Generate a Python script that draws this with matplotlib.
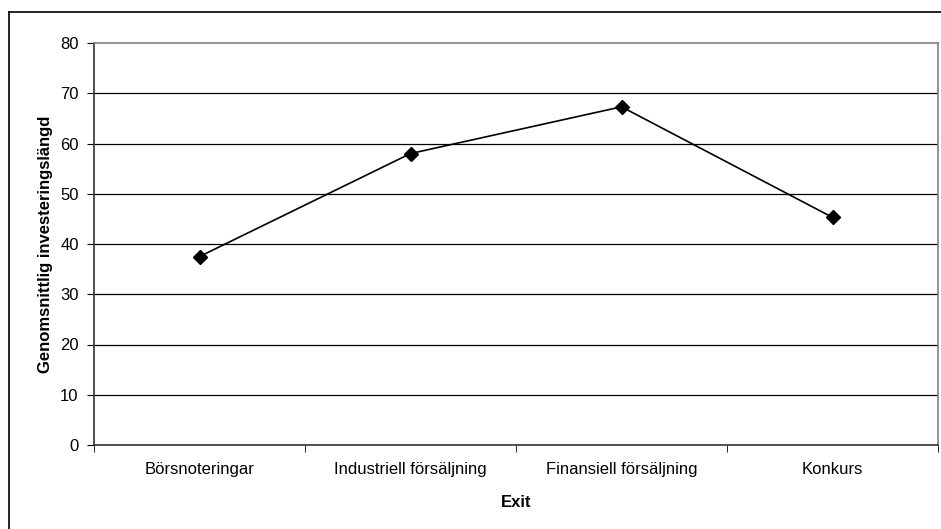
import matplotlib.pyplot as plt
from matplotlib.lines import Line2D
import numpy as np

plt.rcParams['font.family'] = ['Liberation Sans', 'DejaVu Sans']

kategorier = ["Börsnoteringar", "Industriell försäljning", "Finansiell försäljning", "Konkurs"]
langd = [37.5, 58.0, 67.3, 45.3]
yticks = [0, 10, 20, 30, 40, 50, 60, 70, 80]

W, H = 941, 529
fig = plt.figure(figsize=(W / 100, H / 100), dpi=100)
ax = fig.add_axes([94 / W, 1 - 445 / H, (938 - 94) / W, (445 - 43) / H])

x = np.arange(len(kategorier))
ax.plot(x, langd, color="black", lw=1.2, marker="D", ms=7, mfc="black", mec="black", zorder=3)

ax.set_xlim(-0.5, len(kategorier) - 0.5)
ax.set_ylim(0, 80)
ax.set_yticks(yticks)
ax.set_xticks(x)
ax.set_xticklabels(kategorier, fontsize=12)
ax.set_xticks(np.arange(len(kategorier) + 1) - 0.5, minor=True)
ax.tick_params(axis="x", which="major", length=0, pad=12)
ax.tick_params(axis="x", which="minor", length=5, direction="out", color="black")
ax.tick_params(axis="y", length=5, direction="out", labelsize=12, pad=6)

for v in yticks[1:-1]:
    ax.axhline(v, color="black", lw=0.9, zorder=1)

for side in ["top", "right"]:
    ax.spines[side].set_color("#808080")
    ax.spines[side].set_linewidth(1.2)
for side in ["left", "bottom"]:
    ax.spines[side].set_color("#333333")
    ax.spines[side].set_linewidth(1.2)

ax.set_ylabel("Genomsnittlig investeringslängd", fontsize=12, fontweight="bold", labelpad=5)
ax.set_xlabel("Exit", fontsize=12, fontweight="bold", labelpad=13)

# yttre ram
fig.add_artist(Line2D([9 / W, 9 / W], [0, 1 - 12 / H], color="black", lw=1.2))
fig.add_artist(Line2D([9 / W, 1], [1 - 12 / H, 1 - 12 / H], color="black", lw=1.2))

fig.savefig("out.png", dpi=100)
